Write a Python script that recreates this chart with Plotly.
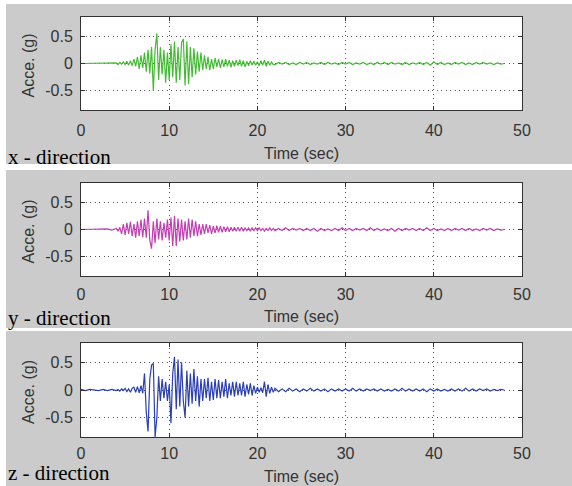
import numpy as np
import plotly.graph_objects as go

# ---- time grid (seconds) ----
time_sec = np.round(np.concatenate([
    np.linspace(0.0, 3.5, 8),
    np.linspace(4.0, 21.8, 90),
    np.linspace(22.0, 48.0, 66),
]), 2)

# ---- accelerations (g) ----
# 8 values for 0-3.5 s, 90 values for 4.0-21.8 s, 66 values for 22-48 s
acc_x = [
    0, 0, 0, 0, 0, 0, 0, 0.005,
    0.01, -0.02, 0.02, -0.01, 0.03, -0.02, 0.04, -0.03, 0.05, -0.04,
    0.08, -0.05, 0.12, -0.1, 0.15, -0.08, 0.2, -0.15, 0.25, -0.18,
    0.3, -0.5, 0.25, 0.55, -0.3, 0.3, -0.2, 0.25, -0.35, 0.2,
    -0.3, 0.35, -0.25, 0.4, -0.35, 0.3, -0.3, 0.38, 0.45, -0.4,
    0.4, -0.38, 0.3, -0.25, 0.28, -0.2, 0.22, -0.15, 0.2, -0.12,
    0.15, -0.1, 0.12, -0.12, 0.08, -0.1, 0.1, -0.06, 0.08, -0.08,
    0.07, -0.06, 0.08, -0.05, 0.06, -0.07, 0.05, -0.05, 0.06, -0.04,
    0.07, -0.05, 0.05, -0.06, 0.04, -0.04, 0.05, -0.03, 0.04, -0.03,
    0.03, -0.04, 0.05, -0.03, 0.06, -0.05, 0.04, -0.03, 0.03, -0.02,
    -0.02, 0.02, -0.01, 0.02, -0.02, 0.01, -0.02, 0.02, -0.01, 0.02,
    -0.02, 0.01, -0.01, 0.02, -0.02, 0.02, -0.01, 0.01, -0.02, 0.02,
    -0.01, 0.02, -0.02, 0.01, -0.01, 0.02, -0.02, 0.01, -0.02, 0.02,
    -0.01, 0.02, -0.02, 0.02, -0.01, 0.01, -0.02, 0.02, -0.02, 0.01,
    -0.01, 0.02, -0.02, 0.02, -0.03, 0.03, -0.02, 0.02, -0.02, 0.01,
    -0.02, 0.02, -0.01, 0.02, -0.02, 0.01, -0.02, 0.02, -0.01, 0.02,
    -0.01, 0.01, -0.02, 0.01, -0.01, 0.0,
]

acc_y = [
    0, 0, 0, 0, 0, 0, 0.01, -0.01,
    0.02, -0.03, 0.04, -0.08, 0.1, -0.1, 0.12, -0.08, 0.14, -0.12,
    0.1, -0.15, 0.15, -0.12, 0.18, -0.14, 0.2, -0.15, 0.35, -0.2,
    -0.35, 0.15, -0.25, 0.2, -0.18, 0.15, -0.2, 0.12, -0.15, 0.18,
    -0.2, 0.22, -0.3, 0.25, -0.3, 0.2, -0.22, 0.18, -0.2, 0.15,
    -0.18, 0.2, -0.15, 0.18, -0.12, 0.15, -0.12, 0.1, -0.1, 0.1,
    -0.08, 0.1, -0.06, 0.08, -0.08, 0.06, -0.06, 0.07, -0.05, 0.06,
    -0.05, 0.05, -0.04, 0.05, -0.04, 0.04, -0.03, 0.04, -0.03, 0.04,
    -0.03, 0.04, -0.03, 0.03, -0.02, 0.03, -0.03, 0.03, -0.02, 0.03,
    -0.02, 0.03, -0.02, 0.02, -0.03, 0.02, -0.02, 0.03, -0.02, 0.02,
    -0.02, 0.02, -0.02, 0.03, -0.02, 0.02, -0.01, 0.02, -0.02, 0.02,
    -0.02, 0.02, -0.03, 0.02, -0.02, 0.01, -0.02, 0.02, -0.02, 0.03,
    -0.02, 0.02, -0.02, 0.02, -0.01, 0.02, -0.02, 0.03, -0.02, 0.02,
    -0.02, 0.01, -0.02, 0.02, -0.03, 0.02, -0.02, 0.02, -0.01, 0.02,
    -0.02, 0.02, -0.02, 0.03, -0.02, 0.02, -0.02, 0.01, -0.02, 0.02,
    -0.02, 0.02, -0.01, 0.02, -0.02, 0.02, -0.02, 0.01, -0.02, 0.02,
    -0.01, 0.02, -0.02, 0.01, -0.01, 0.0,
]

acc_z = [
    0.01, -0.01, 0.01, 0.0, -0.01, 0.01, -0.01, 0.01,
    -0.01, 0.01, -0.02, 0.02, -0.01, 0.03, -0.03, 0.02, -0.04, 0.03,
    0.05, -0.04, 0.06, -0.05, 0.08, -0.06, 0.3, -0.4, -0.75, 0.2,
    0.45, 0.48, -0.85, -0.5, 0.25, -0.2, 0.2, -0.15, 0.15, -0.2,
    0.1, -0.6, 0.3, 0.6, -0.35, 0.55, -0.3, 0.5, -0.2, -0.5,
    0.35, -0.3, 0.3, -0.25, 0.38, -0.2, 0.25, -0.3, 0.2, -0.2,
    0.2, -0.15, 0.22, -0.2, 0.15, -0.18, 0.2, -0.15, 0.18, -0.15,
    0.15, -0.12, 0.2, -0.15, 0.12, -0.1, 0.15, -0.12, 0.15, -0.1,
    0.12, -0.1, 0.15, -0.12, 0.1, -0.08, 0.12, -0.1, 0.08, -0.06,
    0.05, -0.04, 0.04, -0.05, 0.15, -0.12, 0.1, -0.06, 0.05, -0.04,
    0.03, -0.03, 0.02, -0.03, 0.03, -0.02, 0.02, -0.03, 0.02, -0.02,
    0.03, -0.02, 0.02, -0.02, 0.02, -0.03, 0.02, -0.02, 0.02, -0.02,
    0.02, -0.02, 0.03, -0.02, 0.02, -0.02, 0.02, -0.01, 0.02, -0.02,
    0.02, -0.02, 0.01, -0.02, 0.02, -0.02, 0.03, -0.02, 0.02, -0.02,
    0.02, -0.02, 0.02, -0.03, 0.02, -0.02, 0.02, -0.02, 0.01, -0.02,
    0.02, -0.02, 0.02, -0.02, 0.03, -0.02, 0.02, -0.02, 0.02, -0.01,
    0.02, -0.02, 0.01, -0.01, 0.01, 0.0,
]

panel_labels = ["x - direction", "y - direction", "z - direction"]
series = [acc_x, acc_y, acc_z]
colors = ["#45bb35", "#c040b2", "#2b3fae"]
x_ticks = [0, 10, 20, 30, 40, 50]
y_ticks = [-0.5, 0, 0.5]
y_ticktext = ["-0.5", "0", "0.5"]

W, H = 572, 486
# pixel layout: (plot top, plot bottom, panel top, panel bottom, time-label y,
#                dir-label bottom y, x-label standoff)
boxes = [(17, 110, 4, 164, 153, 170, 6),
         (183, 276, 170, 328, 316, 331, 4),
         (343, 437, 331, 486, 476, 485.5, 2)]
X0, X1 = 81, 522

def py(v):
    return 1 - v / H

fig = go.Figure()
shapes, annotations = [], []
sans = "Liberation Sans, Arial, sans-serif"
txtcol = "#333333"
for i, (vals, col, lab, (bt, bb, pt, pb, ty, dy, so)) in enumerate(zip(series, colors, panel_labels, boxes)):
    n = i + 1
    xa = "x" if n == 1 else f"x{n}"
    ya = "y" if n == 1 else f"y{n}"
    fig.add_trace(go.Scatter(x=time_sec, y=vals, mode="lines",
                             line=dict(color=col, width=1.2),
                             xaxis=xa, yaxis=ya, showlegend=False))
    common = dict(showline=True, linecolor="#333333", linewidth=1, mirror="ticks",
                  ticks="inside", ticklen=4, tickcolor="#333333",
                  showgrid=True, gridcolor="#555555", griddash="1px,3.5px", gridwidth=1.2,
                  zeroline=False, automargin=False,
                  tickfont=dict(family=sans, size=16, color=txtcol))
    fig.update_layout(**{
        ("xaxis" if n == 1 else f"xaxis{n}"): dict(
            domain=[X0 / W, X1 / W], range=[0, 50], tickvals=x_ticks,
            anchor=ya, ticklabelstandoff=so, **common),
        ("yaxis" if n == 1 else f"yaxis{n}"): dict(
            domain=[py(bb), py(bt)], range=[-0.85, 0.85], tickvals=y_ticks,
            ticktext=y_ticktext, anchor=xa, ticklabelstandoff=4, **common),
    })
    shapes.append(dict(type="rect", xref="paper", yref="paper", layer="below",
                       x0=6 / W, x1=1.0, y0=py(pb), y1=py(pt),
                       fillcolor="#cbcbcb", line=dict(width=0)))
    shapes.append(dict(type="rect", xref="paper", yref="paper", layer="below",
                       x0=X0 / W, x1=X1 / W, y0=py(bb), y1=py(bt),
                       fillcolor="white", line=dict(width=0)))
    annotations.append(dict(text="Time (sec)", xref="paper", yref="paper",
                            x=(X0 + X1) / 2 / W, y=py(ty), xanchor="center", yanchor="middle",
                            showarrow=False, font=dict(family=sans, size=16, color=txtcol)))
    annotations.append(dict(text="Acce. (g)", xref="paper", yref="paper",
                            x=28 / W, y=py((bt + bb) / 2 + 2), xanchor="center", yanchor="middle",
                            textangle=-90, showarrow=False,
                            font=dict(family=sans, size=16, color=txtcol)))
    annotations.append(dict(text=lab, xref="paper", yref="paper",
                            x=7 / W, y=py(dy), xanchor="left", yanchor="bottom",
                            showarrow=False, borderpad=0,
                            font=dict(family="Liberation Serif, Times New Roman, serif",
                                      size=21, color="black")))

fig.update_layout(width=W, height=H, margin=dict(l=0, r=0, t=0, b=0),
                  paper_bgcolor="white", plot_bgcolor="white",
                  shapes=shapes, annotations=annotations)
fig.write_html("out.html", config={"displayModeBar": False},
               post_script="document.body.style.margin='0px';document.body.style.overflow='hidden';")
